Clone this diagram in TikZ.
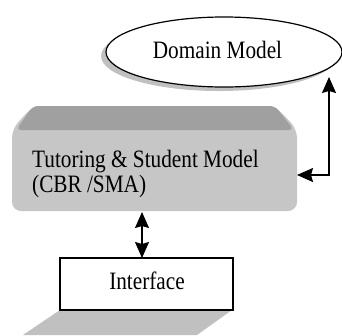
\documentclass[tikz,border=0pt]{standalone}
\usepackage{fontspec}
\setmainfont{Liberation Serif}[FakeStretch=0.85]
\usetikzlibrary{arrows.meta,shapes.geometric}
\definecolor{bandgray}{RGB}{160,160,160}
\definecolor{bodygray}{RGB}{198,198,198}
\definecolor{shadegray}{RGB}{192,192,192}
\tikzset{
  lbl/.style={font=\fontsize{25}{25}\selectfont, inner sep=0pt},
  conn/.style={line width=1.4pt, {Stealth[length=16pt,width=14pt,inset=2pt]}-{Stealth[length=16pt,width=14pt,inset=2pt]}},
}
\begin{document}
\begin{tikzpicture}[x=1pt,y=-1pt]
\useasboundingbox (0,0) rectangle (342,335);
% Domain model ellipse with shadow
\fill[shadegray] (219,56) ellipse [x radius=118, y radius=35];
\node[draw, line width=1.2pt, fill=white, ellipse, minimum width=236, minimum height=70, inner sep=0pt] (dm) at (224,52) {};
\node[lbl, anchor=base] (dmt) at (217.5,58) {Domain Model};
% Tutoring & Student Model bevel box
\fill[bodygray, rounded corners=9pt] (33,106) -- (275,106) -- (297,129) -- (297,211) -- (12,211) -- (12,129) -- cycle;
\fill[bandgray, rounded corners=5pt] (33,106) -- (275,106) -- (294,130) -- (16,130) -- cycle;
\node[minimum width=285, minimum height=105, inner sep=0pt] (tsm) at (154.5,158.5) {};
\node[lbl, anchor=base west, align=left] (tsmt) at (32,167) {Tutoring \& Student Model};
\node[lbl, anchor=base west] (tsmt2) at (32,192) {(CBR /SMA)};
% Interface box with shadow
\fill[shadegray] (60,310) -- (232,310) -- (197,335) -- (23,335) -- cycle;
\node[draw, line width=1.5pt, fill=white, minimum width=173, minimum height=52, inner sep=0pt] (if) at (146.5,284) {};
\node[lbl, anchor=base] (ift) at (147,289) {Interface};
% connectors
\coordinate (dmtip) at (329,77);
\coordinate (tsmtip) at (297,175);
\draw[conn] (dmtip) |- (tsmtip);
\coordinate (vtop) at (142,212);
\coordinate (vbot) at (142,258);
\draw[conn] (vtop) -- (vbot);
\end{tikzpicture}
\end{document}
